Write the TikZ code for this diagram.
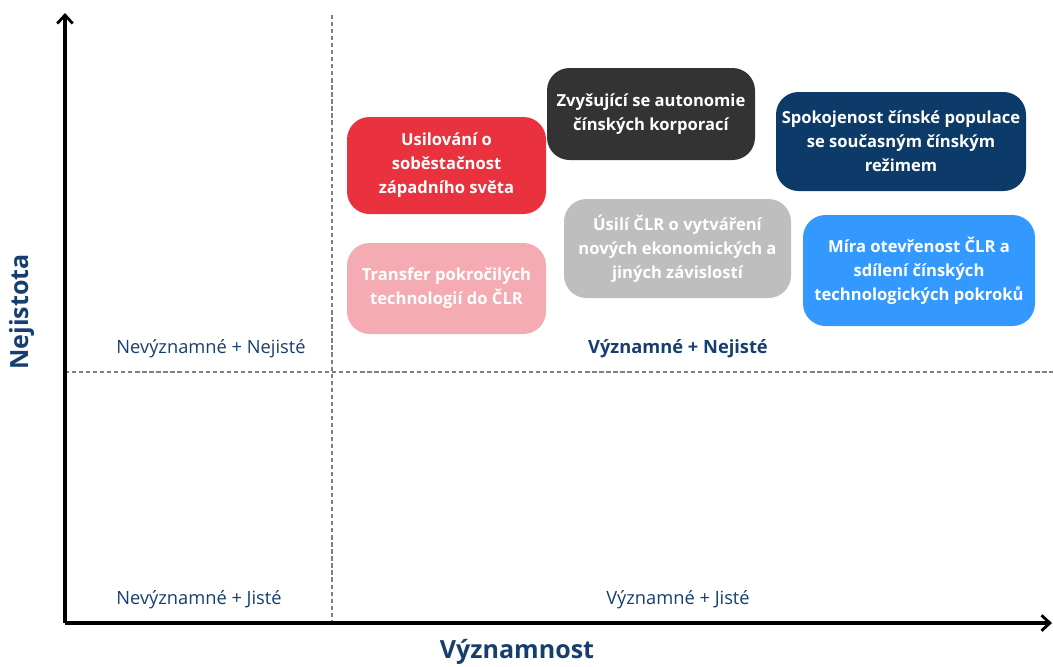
\documentclass[tikz,border=0pt]{standalone}
\usepackage{fontspec}
\setmainfont{Open Sans}
\usetikzlibrary{arrows.meta}

\tikzset{
    quadbox/.style={shape=rectangle,rounded corners=16pt,text=white,align=center,inner sep=2pt,
        font=\bfseries\fontsize{11.8}{17}\selectfont},
    quadlabel/.style={text=navylabel,font=\fontsize{13}{15}\selectfont},
    axislabel/.style={text=navylabel,font=\bfseries\fontsize{17.8}{20}\selectfont},
    axisline/.style={line width=2.6pt,-{Straight Barb[length=6pt,width=11pt,line width=2pt]}},
    splitline/.style={gray,dashed,dash pattern=on 3pt off 2pt,line width=0.8pt}
}

\begin{document}
\begin{tikzpicture}[x=0.025cm,y=-0.025cm]
    \definecolor{navylabel}{RGB}{22,62,110}
    \definecolor{qred}{RGB}{233,50,61}
    \definecolor{qpink}{RGB}{244,172,178}
    \definecolor{qblack}{RGB}{51,51,51}
    \definecolor{qgray}{RGB}{190,190,190}
    \definecolor{qnavy}{RGB}{12,59,105}
    \definecolor{qblue}{RGB}{52,153,255}
    \useasboundingbox (0,0) rectangle (1053,666);
    % axes and quadrant split
    \coordinate (origin) at (65,623);
    \coordinate (ytop) at (65,13);
    \coordinate (xend) at (1052,623);
    \coordinate (vtop) at (332,15);
    \coordinate (vbot) at (332,623);
    \coordinate (hleft) at (65,372);
    \coordinate (hright) at (1053,372);
    \draw[splitline] (vtop) -- (vbot);
    \draw[splitline] (hleft) -- (hright);
    \draw[axisline] (origin) -- (ytop);
    \draw[axisline] (origin) -- (xend);
    \node[axislabel] (vyznamnost) at (517,652) {Významnost};
    \node[axislabel,rotate=90] (nejistota) at (22,312) {Nejistota};
    % quadrant labels
    \node[quadlabel] (nevnej) at (211,349) {Nevýznamné + Nejisté};
    \node[quadlabel,font=\bfseries\fontsize{13}{15}\selectfont] (vyznej) at (678,349) {Významné + Nejisté};
    \node[quadlabel] (nevjis) at (199,600) {Nevýznamné + Jisté};
    \node[quadlabel] (vyzjis) at (678,600) {Významné + Jisté};
    % factors
    \node[quadbox,fill=qred,minimum width=199*0.025cm,minimum height=97*0.025cm]   (usilovani) at (446.5,165.5) {Usilování o\\soběstačnost\\západního světa};
    \node[quadbox,fill=qpink,minimum width=199*0.025cm,minimum height=91*0.025cm]  (transfer) at (446.5,288.5) {Transfer pokročilých\\technologií do ČLR};
    \node[quadbox,fill=qblack,minimum width=208*0.025cm,minimum height=92*0.025cm] (autonomie) at (651,114) {Zvyšující se autonomie\\čínských korporací};
    \node[quadbox,fill=qgray,minimum width=227*0.025cm,minimum height=99*0.025cm]  (usili) at (677.5,248.5) {Úsilí ČLR o vytváření\\nových ekonomických a\\jiných závislostí};
    \node[quadbox,fill=qnavy,minimum width=250*0.025cm,minimum height=99*0.025cm]  (spokojenost) at (901,141.5) {Spokojenost čínské populace\\se současným čínským\\režimem};
    \node[quadbox,fill=qblue,minimum width=232*0.025cm,minimum height=111*0.025cm] (mira) at (919,270.5) {Míra otevřenost ČLR a\\sdílení čínských\\technologických pokroků};
\end{tikzpicture}
\end{document}
